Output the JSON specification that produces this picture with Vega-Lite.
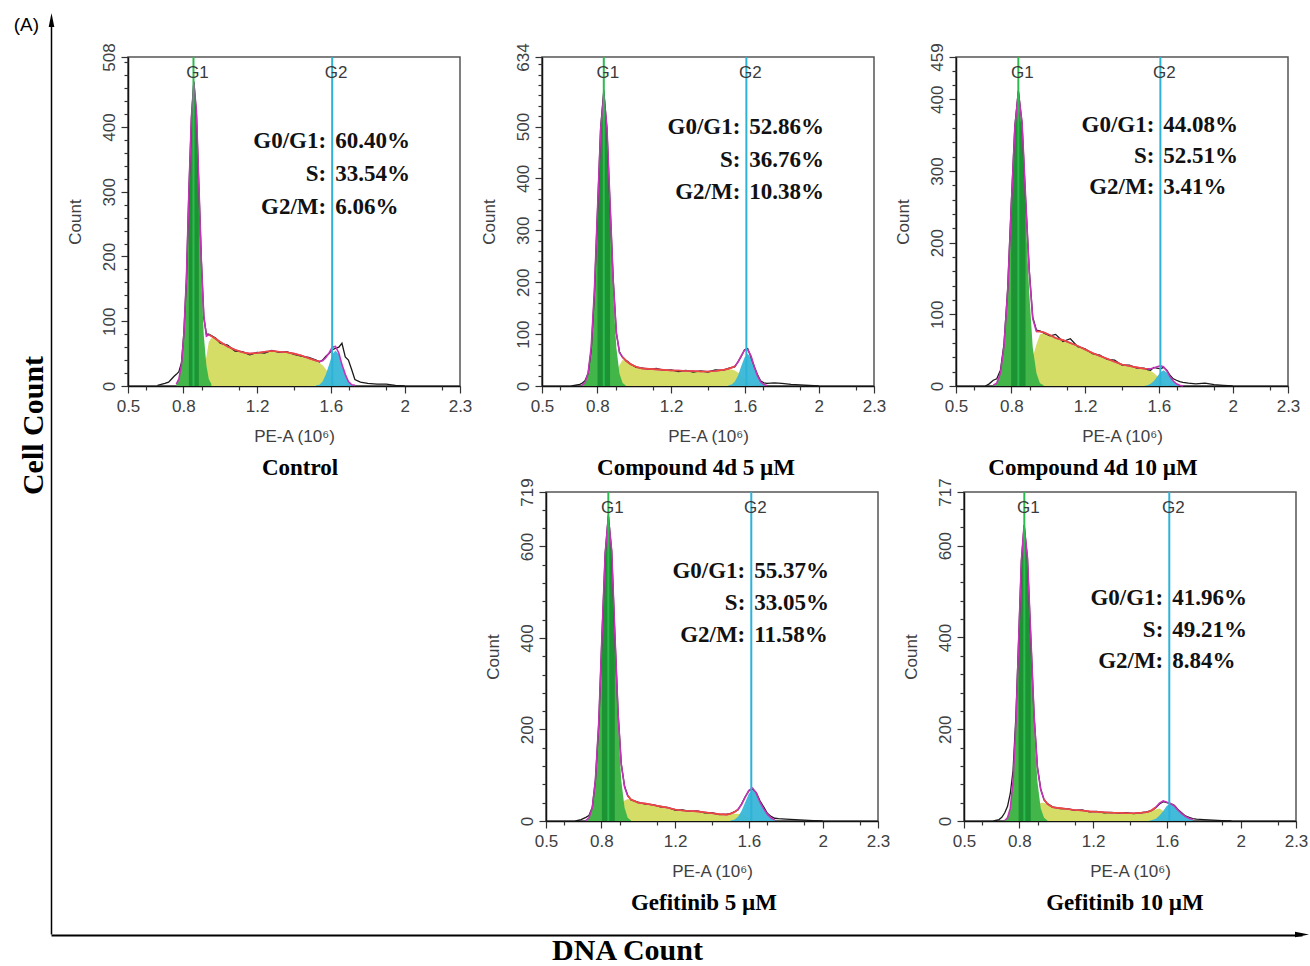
{
"$schema": "https://vega.github.io/schema/vega-lite/v6.json",
"padding": {"left": 13, "top": 13, "right": 0, "bottom": 0},
"background": "white",
"config": {
  "font": "Liberation Sans",
  "view": {"stroke": "#555555", "strokeWidth": 1.5},
  "axis": {"labelFont": "Liberation Sans", "labelFontSize": 17, "labelColor": "#404040", "titleFont": "Liberation Sans", "titleFontSize": 17, "titleFontWeight": "normal", "titleColor": "#404040", "tickColor": "#333333", "tickWidth": 1.2, "domainColor": "#111111", "domainWidth": 1.5, "grid": false}
},
"datasets": {
"p1": [
{"x":0.66,"raw":1},{"x":0.7,"raw":4},{"x":0.72,"raw":6},{"x":0.74,"raw":12},{"x":0.75,"raw":15},
{"x":0.762,"raw":18,"fit":3,"g1":3},
{"x":0.776,"raw":22,"fit":11,"g1":11},
{"x":0.79,"raw":36,"fit":33,"g1":32,"s":1},
{"x":0.803,"raw":82,"fit":80,"g1":78,"s":2},
{"x":0.817,"raw":166,"fit":169,"g1":165,"s":4},
{"x":0.83,"raw":300,"fit":299,"g1":293,"s":6},
{"x":0.844,"raw":414,"fit":416,"g1":408,"s":8},
{"x":0.857,"raw":470,"fit":468,"g1":458,"s":10},
{"x":0.871,"raw":420,"fit":424,"g1":408,"s":16},
{"x":0.884,"raw":310,"fit":313,"g1":293,"s":20},
{"x":0.898,"raw":192,"fit":190,"g1":165,"s":25},
{"x":0.911,"raw":106,"fit":108,"g1":78,"s":30},
{"x":0.925,"raw":80,"fit":77,"g1":32,"s":45},
{"x":0.938,"raw":80,"fit":79,"g1":11,"s":68},
{"x":0.952,"raw":78,"fit":77,"g1":3,"s":74},
{"x":0.975,"raw":74,"fit":73,"s":73},
{"x":1.0,"raw":66,"fit":68,"s":68},
{"x":1.04,"raw":63,"fit":61,"s":61},
{"x":1.08,"raw":54,"fit":56,"s":56},
{"x":1.12,"raw":53,"fit":52,"s":52},
{"x":1.16,"raw":48,"fit":50,"s":50},
{"x":1.2,"raw":52,"fit":51,"s":51},
{"x":1.24,"raw":51,"fit":53,"s":53},
{"x":1.28,"raw":55,"fit":54,"s":54},
{"x":1.32,"raw":52,"fit":53,"s":53},
{"x":1.36,"raw":53,"fit":52,"s":52},
{"x":1.4,"raw":49,"fit":50,"s":50},
{"x":1.44,"raw":46,"fit":47,"s":47},
{"x":1.48,"raw":44,"fit":43,"s":43},
{"x":1.52,"raw":40,"fit":39,"s":38,"g2":1},
{"x":1.538,"raw":37,"fit":38,"s":36,"g2":2},
{"x":1.555,"raw":40,"fit":39,"s":32,"g2":7},
{"x":1.573,"raw":46,"fit":44,"s":26,"g2":18},
{"x":1.59,"raw":50,"fit":51,"s":18,"g2":33},
{"x":1.608,"raw":56,"fit":60,"s":11,"g2":49},
{"x":1.625,"raw":58,"fit":61,"s":6,"g2":55},
{"x":1.643,"raw":60,"fit":51,"s":2,"g2":49},
{"x":1.66,"raw":66,"fit":33,"s":0,"g2":33},
{"x":1.678,"raw":45,"fit":18,"g2":18},
{"x":1.695,"raw":40,"fit":7,"g2":7},
{"x":1.713,"raw":25,"fit":2,"g2":2},
{"x":1.73,"raw":10,"fit":1,"g2":1},
{"x":1.76,"raw":6},{"x":1.8,"raw":4},{"x":1.85,"raw":3},{"x":1.9,"raw":3},{"x":1.95,"raw":1},{"x":2.0,"raw":0}
],
"p2": [
{"x":0.66,"raw":0},{"x":0.69,"raw":2},{"x":0.705,"raw":3},
{"x":0.716,"raw":5,"fit":1,"g1":1},
{"x":0.733,"raw":10,"fit":6,"g1":6},
{"x":0.75,"raw":24,"fit":25,"g1":24,"s":1},
{"x":0.767,"raw":70,"fit":76,"g1":74,"s":2},
{"x":0.784,"raw":178,"fit":183,"g1":179,"s":4},
{"x":0.801,"raw":338,"fit":340,"g1":334,"s":6},
{"x":0.818,"raw":498,"fit":494,"g1":485,"s":9},
{"x":0.835,"raw":570,"fit":562,"g1":550,"s":12},
{"x":0.852,"raw":495,"fit":499,"g1":485,"s":14},
{"x":0.869,"raw":348,"fit":352,"g1":334,"s":18},
{"x":0.886,"raw":205,"fit":203,"g1":179,"s":24},
{"x":0.903,"raw":102,"fit":104,"g1":74,"s":30},
{"x":0.92,"raw":66,"fit":64,"g1":24,"s":40},
{"x":0.937,"raw":55,"fit":56,"g1":6,"s":50},
{"x":0.954,"raw":50,"fit":49,"g1":1,"s":48},
{"x":0.98,"raw":43,"fit":42,"s":42},
{"x":1.01,"raw":36,"fit":37,"s":37},
{"x":1.04,"raw":35,"fit":34,"s":34},
{"x":1.08,"raw":32,"fit":33,"s":33},
{"x":1.12,"raw":34,"fit":32,"s":32},
{"x":1.16,"raw":30,"fit":31,"s":31},
{"x":1.2,"raw":31,"fit":30,"s":30},
{"x":1.24,"raw":28,"fit":30,"s":30},
{"x":1.28,"raw":30,"fit":29,"s":29},
{"x":1.32,"raw":27,"fit":29,"s":29},
{"x":1.36,"raw":29,"fit":28,"s":28},
{"x":1.4,"raw":27,"fit":28,"s":28},
{"x":1.44,"raw":31,"fit":29,"s":29},
{"x":1.48,"raw":30,"fit":31,"s":31},
{"x":1.51,"raw":34,"fit":33,"s":32,"g2":1},
{"x":1.528,"raw":36,"fit":35,"s":32,"g2":3},
{"x":1.545,"raw":37,"fit":38,"s":30,"g2":8},
{"x":1.563,"raw":47,"fit":46,"s":26,"g2":20},
{"x":1.58,"raw":57,"fit":58,"s":20,"g2":38},
{"x":1.598,"raw":70,"fit":69,"s":14,"g2":55},
{"x":1.615,"raw":72,"fit":70,"s":8,"g2":62},
{"x":1.633,"raw":56,"fit":58,"s":3,"g2":55},
{"x":1.65,"raw":38,"fit":38,"s":0,"g2":38},
{"x":1.668,"raw":22,"fit":20,"g2":20},
{"x":1.685,"raw":10,"fit":8,"g2":8},
{"x":1.703,"raw":6,"fit":3,"g2":3},
{"x":1.72,"raw":5,"fit":1,"g2":1},
{"x":1.76,"raw":6},{"x":1.8,"raw":5},{"x":1.85,"raw":3},{"x":1.9,"raw":2},{"x":1.95,"raw":1},{"x":2.0,"raw":0}
],
"p3": [
{"x":0.66,"raw":0},{"x":0.68,"raw":3},
{"x":0.702,"raw":8,"fit":1,"g1":1},
{"x":0.721,"raw":10,"fit":4,"g1":4},
{"x":0.741,"raw":22,"fit":18,"g1":18},
{"x":0.76,"raw":58,"fit":55,"g1":54,"s":1},
{"x":0.78,"raw":135,"fit":132,"g1":130,"s":2},
{"x":0.799,"raw":250,"fit":247,"g1":243,"s":4},
{"x":0.819,"raw":362,"fit":360,"g1":353,"s":7},
{"x":0.838,"raw":412,"fit":410,"g1":400,"s":10},
{"x":0.858,"raw":366,"fit":368,"g1":353,"s":15},
{"x":0.877,"raw":262,"fit":265,"g1":243,"s":22},
{"x":0.897,"raw":162,"fit":160,"g1":130,"s":30},
{"x":0.916,"raw":96,"fit":94,"g1":54,"s":40},
{"x":0.936,"raw":78,"fit":76,"g1":18,"s":58},
{"x":0.955,"raw":77,"fit":76,"g1":4,"s":72},
{"x":0.975,"raw":74,"fit":75,"g1":1,"s":74},
{"x":1.01,"raw":70,"fit":71,"s":71},
{"x":1.04,"raw":72,"fit":67,"s":67},
{"x":1.08,"raw":62,"fit":64,"s":64},
{"x":1.12,"raw":66,"fit":60,"s":60},
{"x":1.16,"raw":55,"fit":56,"s":56},
{"x":1.2,"raw":52,"fit":51,"s":51},
{"x":1.24,"raw":45,"fit":46,"s":46},
{"x":1.28,"raw":43,"fit":42,"s":42},
{"x":1.32,"raw":37,"fit":38,"s":38},
{"x":1.36,"raw":36,"fit":34,"s":34},
{"x":1.4,"raw":29,"fit":30,"s":30},
{"x":1.44,"raw":29,"fit":28,"s":28},
{"x":1.48,"raw":25,"fit":26,"s":26},
{"x":1.52,"raw":25,"fit":24,"s":24,"g2":0},
{"x":1.538,"raw":23,"fit":24,"s":23,"g2":1},
{"x":1.555,"raw":22,"fit":24,"s":21,"g2":3},
{"x":1.573,"raw":26,"fit":25,"s":18,"g2":7},
{"x":1.59,"raw":25,"fit":27,"s":14,"g2":13},
{"x":1.608,"raw":24,"fit":28,"s":9,"g2":19},
{"x":1.625,"raw":26,"fit":27,"s":5,"g2":22},
{"x":1.643,"raw":22,"fit":21,"s":2,"g2":19},
{"x":1.66,"raw":15,"fit":13,"s":0,"g2":13},
{"x":1.678,"raw":10,"fit":7,"g2":7},
{"x":1.695,"raw":8,"fit":3,"g2":3},
{"x":1.713,"raw":6,"fit":1,"g2":1},
{"x":1.73,"raw":5,"fit":0,"g2":0},
{"x":1.76,"raw":4},{"x":1.8,"raw":3},{"x":1.85,"raw":4},{"x":1.9,"raw":2},{"x":1.95,"raw":1},{"x":2.0,"raw":0}
],
"p4": [
{"x":0.66,"raw":0},{"x":0.69,"raw":3},
{"x":0.716,"raw":8,"fit":1,"g1":1},
{"x":0.733,"raw":12,"fit":7,"g1":7},
{"x":0.751,"raw":30,"fit":29,"g1":29},
{"x":0.768,"raw":90,"fit":90,"g1":89,"s":1},
{"x":0.786,"raw":212,"fit":215,"g1":213,"s":2},
{"x":0.803,"raw":400,"fit":401,"g1":397,"s":4},
{"x":0.821,"raw":585,"fit":585,"g1":578,"s":7},
{"x":0.838,"raw":668,"fit":665,"g1":655,"s":10},
{"x":0.856,"raw":590,"fit":591,"g1":578,"s":13},
{"x":0.873,"raw":410,"fit":413,"g1":397,"s":16},
{"x":0.891,"raw":235,"fit":233,"g1":213,"s":20},
{"x":0.908,"raw":125,"fit":124,"g1":89,"s":35},
{"x":0.926,"raw":76,"fit":74,"g1":29,"s":45},
{"x":0.943,"raw":56,"fit":55,"g1":7,"s":48},
{"x":0.961,"raw":46,"fit":47,"g1":1,"s":46},
{"x":1.0,"raw":41,"fit":40,"s":40},
{"x":1.04,"raw":37,"fit":38,"s":38},
{"x":1.08,"raw":36,"fit":35,"s":35},
{"x":1.12,"raw":31,"fit":32,"s":32},
{"x":1.16,"raw":30,"fit":29,"s":29},
{"x":1.2,"raw":24,"fit":25,"s":25},
{"x":1.24,"raw":24,"fit":23,"s":23},
{"x":1.28,"raw":21,"fit":22,"s":22},
{"x":1.32,"raw":22,"fit":21,"s":21},
{"x":1.36,"raw":18,"fit":19,"s":19},
{"x":1.4,"raw":18,"fit":17,"s":17},
{"x":1.44,"raw":14,"fit":15,"s":15},
{"x":1.48,"raw":15,"fit":14,"s":14},
{"x":1.5,"raw":16,"fit":16,"s":15,"g2":1},
{"x":1.52,"raw":20,"fit":19,"s":16,"g2":3},
{"x":1.54,"raw":24,"fit":25,"s":16,"g2":9},
{"x":1.56,"raw":37,"fit":36,"s":14,"g2":22},
{"x":1.58,"raw":53,"fit":52,"s":11,"g2":41},
{"x":1.6,"raw":66,"fit":67,"s":7,"g2":60},
{"x":1.62,"raw":70,"fit":72,"s":4,"g2":68},
{"x":1.64,"raw":62,"fit":61,"s":1,"g2":60},
{"x":1.66,"raw":44,"fit":41,"s":0,"g2":41},
{"x":1.68,"raw":31,"fit":27,"g2":27},
{"x":1.7,"raw":17,"fit":15,"g2":15},
{"x":1.72,"raw":10,"fit":7,"g2":7},
{"x":1.74,"raw":6,"fit":2,"g2":2},
{"x":1.76,"raw":5},{"x":1.8,"raw":4},{"x":1.85,"raw":3},{"x":1.9,"raw":2},{"x":1.95,"raw":1},{"x":2.0,"raw":0}
],
"p5": [
{"x":0.66,"raw":0},{"x":0.69,"raw":3},{"x":0.705,"raw":8},
{"x":0.721,"raw":18,"fit":1,"g1":1},
{"x":0.736,"raw":32,"fit":7,"g1":7},
{"x":0.751,"raw":60,"fit":28,"g1":28},
{"x":0.766,"raw":110,"fit":87,"g1":86,"s":1},
{"x":0.781,"raw":225,"fit":208,"g1":206,"s":2},
{"x":0.796,"raw":392,"fit":389,"g1":385,"s":4},
{"x":0.811,"raw":565,"fit":567,"g1":560,"s":7},
{"x":0.826,"raw":645,"fit":645,"g1":635,"s":10},
{"x":0.844,"raw":572,"fit":574,"g1":560,"s":14},
{"x":0.862,"raw":400,"fit":403,"g1":385,"s":18},
{"x":0.88,"raw":228,"fit":230,"g1":206,"s":24},
{"x":0.898,"raw":118,"fit":116,"g1":86,"s":30},
{"x":0.916,"raw":70,"fit":68,"g1":28,"s":40},
{"x":0.934,"raw":46,"fit":47,"g1":7,"s":40},
{"x":0.952,"raw":38,"fit":37,"g1":1,"s":36},
{"x":0.98,"raw":31,"fit":30,"s":30},
{"x":1.02,"raw":27,"fit":28,"s":28},
{"x":1.06,"raw":27,"fit":26,"s":26},
{"x":1.1,"raw":23,"fit":24,"s":24},
{"x":1.14,"raw":24,"fit":23,"s":23},
{"x":1.18,"raw":20,"fit":21,"s":21},
{"x":1.22,"raw":21,"fit":20,"s":20},
{"x":1.26,"raw":18,"fit":19,"s":19},
{"x":1.3,"raw":19,"fit":18,"s":18},
{"x":1.34,"raw":17,"fit":18,"s":18},
{"x":1.38,"raw":18,"fit":17,"s":17},
{"x":1.42,"raw":16,"fit":17,"s":17},
{"x":1.46,"raw":18,"fit":18,"s":18},
{"x":1.49,"raw":20,"fit":19,"s":19},
{"x":1.5,"raw":21,"fit":20,"s":20,"g2":0},
{"x":1.52,"raw":23,"fit":24,"s":22,"g2":2},
{"x":1.54,"raw":29,"fit":30,"s":25,"g2":5},
{"x":1.56,"raw":37,"fit":39,"s":27,"g2":12},
{"x":1.58,"raw":42,"fit":44,"s":22,"g2":22},
{"x":1.6,"raw":40,"fit":41,"s":8,"g2":33},
{"x":1.62,"raw":38,"fit":38,"s":1,"g2":37},
{"x":1.64,"raw":34,"fit":33,"s":0,"g2":33},
{"x":1.66,"raw":25,"fit":24,"g2":24},
{"x":1.68,"raw":18,"fit":16,"g2":16},
{"x":1.7,"raw":11,"fit":10,"g2":10},
{"x":1.72,"raw":8,"fit":6,"g2":6},
{"x":1.74,"raw":5,"fit":3,"g2":3},
{"x":1.76,"raw":4},{"x":1.8,"raw":3},{"x":1.85,"raw":2},{"x":1.9,"raw":1},{"x":1.95,"raw":0}
],
"m1": [{"ph":"G1","pos":0.855},{"ph":"G2","pos":1.607}],
"m2": [{"ph":"G1","pos":0.835},{"ph":"G2","pos":1.608}],
"m3": [{"ph":"G1","pos":0.838},{"ph":"G2","pos":1.608}],
"m4": [{"ph":"G1","pos":0.838},{"ph":"G2","pos":1.613}],
"m5": [{"ph":"G1","pos":0.827},{"ph":"G2","pos":1.613}],
"st1": [{"i":0,"lab":"G0/G1:","pct":0.6040},{"i":1,"lab":"S:","pct":0.3354},{"i":2,"lab":"G2/M:","pct":0.0606}],
"st2": [{"i":0,"lab":"G0/G1:","pct":0.5286},{"i":1,"lab":"S:","pct":0.3676},{"i":2,"lab":"G2/M:","pct":0.1038}],
"st3": [{"i":0,"lab":"G0/G1:","pct":0.4408},{"i":1,"lab":"S:","pct":0.5251},{"i":2,"lab":"G2/M:","pct":0.0341}],
"st4": [{"i":0,"lab":"G0/G1:","pct":0.5537},{"i":1,"lab":"S:","pct":0.3305},{"i":2,"lab":"G2/M:","pct":0.1158}],
"st5": [{"i":0,"lab":"G0/G1:","pct":0.4196},{"i":1,"lab":"S:","pct":0.4921},{"i":2,"lab":"G2/M:","pct":0.0884}]
},
"spacing": -4,
"vconcat": [
{
 "spacing": 10,
 "hconcat": [
  {
   "width": 1, "height": 914,
   "view": {"stroke": null},
   "data": {"values": [{}]},
   "encoding": {"y": {"datum": 1, "type": "quantitative", "scale": {"domain": [0, 1], "nice": false}, "axis": {"domain": true, "domainColor": "#000000", "domainWidth": 1.5, "ticks": false, "labels": false, "grid": false, "title": "Cell Count", "titleFont": "Liberation Serif", "titleFontSize": 30, "titleFontWeight": "bold", "titleColor": "#000000", "titleX": -9, "titleY": 405, "titleAngle": 270, "titleBaseline": "alphabetic", "titleAlign": "center"}}},
   "layer": [
    {"mark": {"type": "point", "shape": "M0,-1L0.4,1L-0.4,1Z", "size": 196, "filled": true, "color": "#000000", "opacity": 1}},
    {"mark": {"type": "text", "text": "(A)", "align": "right", "baseline": "alphabetic", "dx": -12.5, "dy": 11, "font": "Liberation Sans", "fontSize": 19, "color": "#000000"}}
   ]
  },
  {
   "spacing": 21,
   "vconcat": [
    {"width": 1, "height": 1, "view": {"stroke": null}, "data": {"values": [{}]}, "mark": {"type": "point", "opacity": 0, "size": 1}, "encoding": {}},
    {
     "spacing": -4,
     "vconcat": [
      {
       "spacing": 6,
       "hconcat": [
        {
         "width": 332, "height": 329,
         "title": {"text": "Control", "orient": "bottom", "offset": 13, "dx": 6, "font": "Liberation Serif", "fontSize": 23, "fontWeight": "bold", "color": "#000000", "anchor": "middle"},
         "layer": [
          {
           "data": {"name": "p1"},
           "transform": [{"fold": ["s", "g1", "g2", "raw", "fit"], "as": ["k", "v"]}],
           "encoding": {
            "x": {"field": "x", "type": "quantitative", "scale": {"domain": [0.5, 2.3], "nice": false, "zero": false}, "axis": {"orient": "bottom", "values": [0.5, 0.8, 1.2, 1.6, 2, 2.3], "format": "~g", "title": "PE-A (10⁶)", "labelFlush": false, "labelOverlap": false, "tickSize": 7, "labelPadding": 5, "titlePadding": 14}},
            "y": {"field": "v", "type": "quantitative", "scale": {"domain": [0, 508], "nice": false}, "axis": {"orient": "left", "values": [0, 100, 200, 300, 400, 508], "title": "Count", "labelAngle": -90, "labelAlign": "center", "labelBaseline": "bottom", "labelFlush": false, "labelOverlap": false, "tickSize": 7, "labelPadding": 3, "titlePadding": 16}}
           },
           "layer": [
            {"transform": [{"filter": "datum.k === 's'"}], "mark": {"type": "area", "color": "#d6dd66", "opacity": 1}, "encoding": {}},
            {"transform": [{"filter": "datum.k === 'g1'"}], "mark": {"type": "area", "color": "#43b649", "opacity": 1}, "encoding": {}},
            {"transform": [{"filter": "datum.k === 'g1' && datum.x >= 0.825 && datum.x <= 0.89"}], "mark": {"type": "area", "color": "#1c9433", "opacity": 1}, "encoding": {}},
            {"transform": [{"filter": "datum.k === 'g2'"}], "mark": {"type": "area", "color": "#38b6d8", "opacity": 0.95}, "encoding": {}},
            {"transform": [{"filter": "datum.k === 'raw'"}], "mark": {"type": "line", "color": "#1a1a1a", "strokeWidth": 1.3}, "encoding": {}},
            {"transform": [{"filter": "datum.k === 'fit'"}], "mark": {"type": "line", "color": "#c633b8", "strokeWidth": 1.6}, "encoding": {}},
            {"transform": [{"filter": "datum.k === 'fit' && datum.x >= 0.93 && datum.x <= 1.55"}], "mark": {"type": "line", "color": "#ec4b3b", "strokeWidth": 1.6}, "encoding": {}}
           ]
          },
          {
           "data": {"name": "m1"},
           "layer": [
            {"mark": {"type": "rule", "strokeWidth": 2}, "encoding": {"x": {"field": "pos", "type": "quantitative", "axis": {"orient": "bottom", "values": [0.6, 0.7, 0.9, 1.0, 1.1, 1.3, 1.4, 1.5, 1.7, 1.8, 1.9, 2.1, 2.2], "labels": false, "domain": false, "title": null, "tickSize": 4, "grid": false}}, "color": {"field": "ph", "type": "nominal", "scale": {"domain": ["G1", "G2"], "range": ["#2dbb4f", "#2eb3d8"]}, "legend": null}}},
            {"mark": {"type": "text", "font": "Liberation Sans", "fontSize": 17, "color": "#3a3a3a", "align": "center", "baseline": "middle", "dx": 4, "dy": 16}, "encoding": {"x": {"field": "pos", "type": "quantitative"}, "y": {"datum": 508, "type": "quantitative", "scale": {"domain": [0, 508], "nice": false}, "axis": {"orient": "left", "values": [20, 40, 60, 80, 120, 140, 160, 180, 220, 240, 260, 280, 320, 340, 360, 380, 420, 440, 460, 480, 500], "labels": false, "domain": false, "title": null, "tickSize": 4, "grid": false}}, "text": {"field": "ph"}}}
           ]
          },
          {
           "data": {"name": "st1"},
           "encoding": {"x": {"datum": 1.607, "type": "quantitative", "axis": null}, "y": {"field": "i", "type": "quantitative", "scale": {"domain": [-2.748, 7.221], "reverse": true, "nice": false, "zero": false}, "axis": null}},
           "layer": [
            {"mark": {"type": "text", "align": "right", "baseline": "alphabetic", "dx": -6, "font": "Liberation Serif", "fontSize": 23, "fontWeight": "bold", "color": "#111111"}, "encoding": {"text": {"field": "lab"}}},
            {"mark": {"type": "text", "align": "left", "baseline": "alphabetic", "dx": 3, "font": "Liberation Serif", "fontSize": 23, "fontWeight": "bold", "color": "#111111"}, "encoding": {"text": {"field": "pct", "type": "quantitative", "format": ".2%"}}}
           ]
          }
         ],
         "resolve": {"scale": {"y": "independent"}, "axis": {"x": "independent", "y": "independent"}}
        },
        {
         "width": 332, "height": 329,
         "title": {"text": "Compound 4d  5 µM", "orient": "bottom", "offset": 13, "dx": -12, "font": "Liberation Serif", "fontSize": 23, "fontWeight": "bold", "color": "#000000", "anchor": "middle"},
         "layer": [
          {
           "data": {"name": "p2"},
           "transform": [{"fold": ["s", "g1", "g2", "raw", "fit"], "as": ["k", "v"]}],
           "encoding": {
            "x": {"field": "x", "type": "quantitative", "scale": {"domain": [0.5, 2.3], "nice": false, "zero": false}, "axis": {"orient": "bottom", "values": [0.5, 0.8, 1.2, 1.6, 2, 2.3], "format": "~g", "title": "PE-A (10⁶)", "labelFlush": false, "labelOverlap": false, "tickSize": 7, "labelPadding": 5, "titlePadding": 14}},
            "y": {"field": "v", "type": "quantitative", "scale": {"domain": [0, 634], "nice": false}, "axis": {"orient": "left", "values": [0, 100, 200, 300, 400, 500, 634], "title": "Count", "labelAngle": -90, "labelAlign": "center", "labelBaseline": "bottom", "labelFlush": false, "labelOverlap": false, "tickSize": 7, "labelPadding": 3, "titlePadding": 16}}
           },
           "layer": [
            {"transform": [{"filter": "datum.k === 's'"}], "mark": {"type": "area", "color": "#d6dd66", "opacity": 1}, "encoding": {}},
            {"transform": [{"filter": "datum.k === 'g1'"}], "mark": {"type": "area", "color": "#43b649", "opacity": 1}, "encoding": {}},
            {"transform": [{"filter": "datum.k === 'g1' && datum.x >= 0.80 && datum.x <= 0.87"}], "mark": {"type": "area", "color": "#1c9433", "opacity": 1}, "encoding": {}},
            {"transform": [{"filter": "datum.k === 'g2'"}], "mark": {"type": "area", "color": "#38b6d8", "opacity": 0.95}, "encoding": {}},
            {"transform": [{"filter": "datum.k === 'raw'"}], "mark": {"type": "line", "color": "#1a1a1a", "strokeWidth": 1.3}, "encoding": {}},
            {"transform": [{"filter": "datum.k === 'fit'"}], "mark": {"type": "line", "color": "#c633b8", "strokeWidth": 1.6}, "encoding": {}},
            {"transform": [{"filter": "datum.k === 'fit' && datum.x >= 0.93 && datum.x <= 1.55"}], "mark": {"type": "line", "color": "#ec4b3b", "strokeWidth": 1.6}, "encoding": {}}
           ]
          },
          {
           "data": {"name": "m2"},
           "layer": [
            {"mark": {"type": "rule", "strokeWidth": 2}, "encoding": {"x": {"field": "pos", "type": "quantitative", "axis": {"orient": "bottom", "values": [0.6, 0.7, 0.9, 1.0, 1.1, 1.3, 1.4, 1.5, 1.7, 1.8, 1.9, 2.1, 2.2], "labels": false, "domain": false, "title": null, "tickSize": 4, "grid": false}}, "color": {"field": "ph", "type": "nominal", "scale": {"domain": ["G1", "G2"], "range": ["#2dbb4f", "#2eb3d8"]}, "legend": null}}},
            {"mark": {"type": "text", "font": "Liberation Sans", "fontSize": 17, "color": "#3a3a3a", "align": "center", "baseline": "middle", "dx": 4, "dy": 16}, "encoding": {"x": {"field": "pos", "type": "quantitative"}, "y": {"datum": 634, "type": "quantitative", "scale": {"domain": [0, 634], "nice": false}, "axis": {"orient": "left", "values": [20, 40, 60, 80, 120, 140, 160, 180, 220, 240, 260, 280, 320, 340, 360, 380, 420, 440, 460, 480, 520, 540, 560, 580, 600, 620], "labels": false, "domain": false, "title": null, "tickSize": 4, "grid": false}}, "text": {"field": "ph"}}}
           ]
          },
          {
           "data": {"name": "st2"},
           "encoding": {"x": {"datum": 1.608, "type": "quantitative", "axis": null}, "y": {"field": "i", "type": "quantitative", "scale": {"domain": [-2.401, 7.816], "reverse": true, "nice": false, "zero": false}, "axis": null}},
           "layer": [
            {"mark": {"type": "text", "align": "right", "baseline": "alphabetic", "dx": -6, "font": "Liberation Serif", "fontSize": 23, "fontWeight": "bold", "color": "#111111"}, "encoding": {"text": {"field": "lab"}}},
            {"mark": {"type": "text", "align": "left", "baseline": "alphabetic", "dx": 3, "font": "Liberation Serif", "fontSize": 23, "fontWeight": "bold", "color": "#111111"}, "encoding": {"text": {"field": "pct", "type": "quantitative", "format": ".2%"}}}
           ]
          }
         ],
         "resolve": {"scale": {"y": "independent"}, "axis": {"x": "independent", "y": "independent"}}
        },
        {
         "width": 332, "height": 329,
         "title": {"text": "Compound 4d  10 µM", "orient": "bottom", "offset": 13, "dx": -29, "font": "Liberation Serif", "fontSize": 23, "fontWeight": "bold", "color": "#000000", "anchor": "middle"},
         "layer": [
          {
           "data": {"name": "p3"},
           "transform": [{"fold": ["s", "g1", "g2", "raw", "fit"], "as": ["k", "v"]}],
           "encoding": {
            "x": {"field": "x", "type": "quantitative", "scale": {"domain": [0.5, 2.3], "nice": false, "zero": false}, "axis": {"orient": "bottom", "values": [0.5, 0.8, 1.2, 1.6, 2, 2.3], "format": "~g", "title": "PE-A (10⁶)", "labelFlush": false, "labelOverlap": false, "tickSize": 7, "labelPadding": 5, "titlePadding": 14}},
            "y": {"field": "v", "type": "quantitative", "scale": {"domain": [0, 459], "nice": false}, "axis": {"orient": "left", "values": [0, 100, 200, 300, 400, 459], "title": "Count", "labelAngle": -90, "labelAlign": "center", "labelBaseline": "bottom", "labelFlush": false, "labelOverlap": false, "tickSize": 7, "labelPadding": 3, "titlePadding": 16}}
           },
           "layer": [
            {"transform": [{"filter": "datum.k === 's'"}], "mark": {"type": "area", "color": "#d6dd66", "opacity": 1}, "encoding": {}},
            {"transform": [{"filter": "datum.k === 'g1'"}], "mark": {"type": "area", "color": "#43b649", "opacity": 1}, "encoding": {}},
            {"transform": [{"filter": "datum.k === 'g1' && datum.x >= 0.795 && datum.x <= 0.88"}], "mark": {"type": "area", "color": "#1c9433", "opacity": 1}, "encoding": {}},
            {"transform": [{"filter": "datum.k === 'g2'"}], "mark": {"type": "area", "color": "#38b6d8", "opacity": 0.95}, "encoding": {}},
            {"transform": [{"filter": "datum.k === 'raw'"}], "mark": {"type": "line", "color": "#1a1a1a", "strokeWidth": 1.3}, "encoding": {}},
            {"transform": [{"filter": "datum.k === 'fit'"}], "mark": {"type": "line", "color": "#c633b8", "strokeWidth": 1.6}, "encoding": {}},
            {"transform": [{"filter": "datum.k === 'fit' && datum.x >= 0.93 && datum.x <= 1.55"}], "mark": {"type": "line", "color": "#ec4b3b", "strokeWidth": 1.6}, "encoding": {}}
           ]
          },
          {
           "data": {"name": "m3"},
           "layer": [
            {"mark": {"type": "rule", "strokeWidth": 2}, "encoding": {"x": {"field": "pos", "type": "quantitative", "axis": {"orient": "bottom", "values": [0.6, 0.7, 0.9, 1.0, 1.1, 1.3, 1.4, 1.5, 1.7, 1.8, 1.9, 2.1, 2.2], "labels": false, "domain": false, "title": null, "tickSize": 4, "grid": false}}, "color": {"field": "ph", "type": "nominal", "scale": {"domain": ["G1", "G2"], "range": ["#2dbb4f", "#2eb3d8"]}, "legend": null}}},
            {"mark": {"type": "text", "font": "Liberation Sans", "fontSize": 17, "color": "#3a3a3a", "align": "center", "baseline": "middle", "dx": 4, "dy": 16}, "encoding": {"x": {"field": "pos", "type": "quantitative"}, "y": {"datum": 459, "type": "quantitative", "scale": {"domain": [0, 459], "nice": false}, "axis": {"orient": "left", "values": [20, 40, 60, 80, 120, 140, 160, 180, 220, 240, 260, 280, 320, 340, 360, 380, 420, 440], "labels": false, "domain": false, "title": null, "tickSize": 4, "grid": false}}, "text": {"field": "ph"}}}
           ]
          },
          {
           "data": {"name": "st3"},
           "encoding": {"x": {"datum": 1.608, "type": "quantitative", "axis": null}, "y": {"field": "i", "type": "quantitative", "scale": {"domain": [-2.435, 8.247], "reverse": true, "nice": false, "zero": false}, "axis": null}},
           "layer": [
            {"mark": {"type": "text", "align": "right", "baseline": "alphabetic", "dx": -6, "font": "Liberation Serif", "fontSize": 23, "fontWeight": "bold", "color": "#111111"}, "encoding": {"text": {"field": "lab"}}},
            {"mark": {"type": "text", "align": "left", "baseline": "alphabetic", "dx": 3, "font": "Liberation Serif", "fontSize": 23, "fontWeight": "bold", "color": "#111111"}, "encoding": {"text": {"field": "pct", "type": "quantitative", "format": ".2%"}}}
           ]
          }
         ],
         "resolve": {"scale": {"y": "independent"}, "axis": {"x": "independent", "y": "independent"}}
        }
       ]
      },
      {
       "spacing": 10,
       "hconcat": [
        {"width": 345, "height": 329, "view": {"stroke": null}, "data": {"values": [{}]}, "mark": {"type": "point", "opacity": 0, "size": 1}, "encoding": {}},
        {
         "width": 332, "height": 329,
         "title": {"text": "Gefitinib  5 µM", "orient": "bottom", "offset": 13, "dx": -8, "font": "Liberation Serif", "fontSize": 23, "fontWeight": "bold", "color": "#000000", "anchor": "middle"},
         "layer": [
          {
           "data": {"name": "p4"},
           "transform": [{"fold": ["s", "g1", "g2", "raw", "fit"], "as": ["k", "v"]}],
           "encoding": {
            "x": {"field": "x", "type": "quantitative", "scale": {"domain": [0.5, 2.3], "nice": false, "zero": false}, "axis": {"orient": "bottom", "values": [0.5, 0.8, 1.2, 1.6, 2, 2.3], "format": "~g", "title": "PE-A (10⁶)", "labelFlush": false, "labelOverlap": false, "tickSize": 7, "labelPadding": 5, "titlePadding": 14}},
            "y": {"field": "v", "type": "quantitative", "scale": {"domain": [0, 719], "nice": false}, "axis": {"orient": "left", "values": [0, 200, 400, 600, 719], "title": "Count", "labelAngle": -90, "labelAlign": "center", "labelBaseline": "bottom", "labelFlush": false, "labelOverlap": false, "tickSize": 7, "labelPadding": 3, "titlePadding": 16}}
           },
           "layer": [
            {"transform": [{"filter": "datum.k === 's'"}], "mark": {"type": "area", "color": "#d6dd66", "opacity": 1}, "encoding": {}},
            {"transform": [{"filter": "datum.k === 'g1'"}], "mark": {"type": "area", "color": "#43b649", "opacity": 1}, "encoding": {}},
            {"transform": [{"filter": "datum.k === 'g1' && datum.x >= 0.80 && datum.x <= 0.875"}], "mark": {"type": "area", "color": "#1c9433", "opacity": 1}, "encoding": {}},
            {"transform": [{"filter": "datum.k === 'g2'"}], "mark": {"type": "area", "color": "#38b6d8", "opacity": 0.95}, "encoding": {}},
            {"transform": [{"filter": "datum.k === 'raw'"}], "mark": {"type": "line", "color": "#1a1a1a", "strokeWidth": 1.3}, "encoding": {}},
            {"transform": [{"filter": "datum.k === 'fit'"}], "mark": {"type": "line", "color": "#c633b8", "strokeWidth": 1.6}, "encoding": {}},
            {"transform": [{"filter": "datum.k === 'fit' && datum.x >= 0.93 && datum.x <= 1.55"}], "mark": {"type": "line", "color": "#ec4b3b", "strokeWidth": 1.6}, "encoding": {}}
           ]
          },
          {
           "data": {"name": "m4"},
           "layer": [
            {"mark": {"type": "rule", "strokeWidth": 2}, "encoding": {"x": {"field": "pos", "type": "quantitative", "axis": {"orient": "bottom", "values": [0.6, 0.7, 0.9, 1.0, 1.1, 1.3, 1.4, 1.5, 1.7, 1.8, 1.9, 2.1, 2.2], "labels": false, "domain": false, "title": null, "tickSize": 4, "grid": false}}, "color": {"field": "ph", "type": "nominal", "scale": {"domain": ["G1", "G2"], "range": ["#2dbb4f", "#2eb3d8"]}, "legend": null}}},
            {"mark": {"type": "text", "font": "Liberation Sans", "fontSize": 17, "color": "#3a3a3a", "align": "center", "baseline": "middle", "dx": 4, "dy": 16}, "encoding": {"x": {"field": "pos", "type": "quantitative"}, "y": {"datum": 719, "type": "quantitative", "scale": {"domain": [0, 719], "nice": false}, "axis": {"orient": "left", "values": [40, 80, 120, 160, 240, 280, 320, 360, 440, 480, 520, 560, 640, 680], "labels": false, "domain": false, "title": null, "tickSize": 4, "grid": false}}, "text": {"field": "ph"}}}
           ]
          },
          {
           "data": {"name": "st4"},
           "encoding": {"x": {"datum": 1.613, "type": "quantitative", "axis": null}, "y": {"field": "i", "type": "quantitative", "scale": {"domain": [-2.722, 7.657], "reverse": true, "nice": false, "zero": false}, "axis": null}},
           "layer": [
            {"mark": {"type": "text", "align": "right", "baseline": "alphabetic", "dx": -6, "font": "Liberation Serif", "fontSize": 23, "fontWeight": "bold", "color": "#111111"}, "encoding": {"text": {"field": "lab"}}},
            {"mark": {"type": "text", "align": "left", "baseline": "alphabetic", "dx": 3, "font": "Liberation Serif", "fontSize": 23, "fontWeight": "bold", "color": "#111111"}, "encoding": {"text": {"field": "pct", "type": "quantitative", "format": ".2%"}}}
           ]
          }
         ],
         "resolve": {"scale": {"y": "independent"}, "axis": {"x": "independent", "y": "independent"}}
        },
        {
         "width": 332, "height": 329,
         "title": {"text": "Gefitinib  10 µM", "orient": "bottom", "offset": 13, "dx": -5, "font": "Liberation Serif", "fontSize": 23, "fontWeight": "bold", "color": "#000000", "anchor": "middle"},
         "layer": [
          {
           "data": {"name": "p5"},
           "transform": [{"fold": ["s", "g1", "g2", "raw", "fit"], "as": ["k", "v"]}],
           "encoding": {
            "x": {"field": "x", "type": "quantitative", "scale": {"domain": [0.5, 2.3], "nice": false, "zero": false}, "axis": {"orient": "bottom", "values": [0.5, 0.8, 1.2, 1.6, 2, 2.3], "format": "~g", "title": "PE-A (10⁶)", "labelFlush": false, "labelOverlap": false, "tickSize": 7, "labelPadding": 5, "titlePadding": 14}},
            "y": {"field": "v", "type": "quantitative", "scale": {"domain": [0, 717], "nice": false}, "axis": {"orient": "left", "values": [0, 200, 400, 600, 717], "title": "Count", "labelAngle": -90, "labelAlign": "center", "labelBaseline": "bottom", "labelFlush": false, "labelOverlap": false, "tickSize": 7, "labelPadding": 3, "titlePadding": 16}}
           },
           "layer": [
            {"transform": [{"filter": "datum.k === 's'"}], "mark": {"type": "area", "color": "#d6dd66", "opacity": 1}, "encoding": {}},
            {"transform": [{"filter": "datum.k === 'g1'"}], "mark": {"type": "area", "color": "#43b649", "opacity": 1}, "encoding": {}},
            {"transform": [{"filter": "datum.k === 'g1' && datum.x >= 0.79 && datum.x <= 0.865"}], "mark": {"type": "area", "color": "#1c9433", "opacity": 1}, "encoding": {}},
            {"transform": [{"filter": "datum.k === 'g2'"}], "mark": {"type": "area", "color": "#38b6d8", "opacity": 0.95}, "encoding": {}},
            {"transform": [{"filter": "datum.k === 'raw'"}], "mark": {"type": "line", "color": "#1a1a1a", "strokeWidth": 1.3}, "encoding": {}},
            {"transform": [{"filter": "datum.k === 'fit'"}], "mark": {"type": "line", "color": "#c633b8", "strokeWidth": 1.6}, "encoding": {}},
            {"transform": [{"filter": "datum.k === 'fit' && datum.x >= 0.93 && datum.x <= 1.55"}], "mark": {"type": "line", "color": "#ec4b3b", "strokeWidth": 1.6}, "encoding": {}}
           ]
          },
          {
           "data": {"name": "m5"},
           "layer": [
            {"mark": {"type": "rule", "strokeWidth": 2}, "encoding": {"x": {"field": "pos", "type": "quantitative", "axis": {"orient": "bottom", "values": [0.6, 0.7, 0.9, 1.0, 1.1, 1.3, 1.4, 1.5, 1.7, 1.8, 1.9, 2.1, 2.2], "labels": false, "domain": false, "title": null, "tickSize": 4, "grid": false}}, "color": {"field": "ph", "type": "nominal", "scale": {"domain": ["G1", "G2"], "range": ["#2dbb4f", "#2eb3d8"]}, "legend": null}}},
            {"mark": {"type": "text", "font": "Liberation Sans", "fontSize": 17, "color": "#3a3a3a", "align": "center", "baseline": "middle", "dx": 4, "dy": 16}, "encoding": {"x": {"field": "pos", "type": "quantitative"}, "y": {"datum": 717, "type": "quantitative", "scale": {"domain": [0, 717], "nice": false}, "axis": {"orient": "left", "values": [40, 80, 120, 160, 240, 280, 320, 360, 440, 480, 520, 560, 640, 680], "labels": false, "domain": false, "title": null, "tickSize": 4, "grid": false}}, "text": {"field": "ph"}}}
           ]
          },
          {
           "data": {"name": "st5"},
           "encoding": {"x": {"datum": 1.613, "type": "quantitative", "axis": null}, "y": {"field": "i", "type": "quantitative", "scale": {"domain": [-3.565, 6.814], "reverse": true, "nice": false, "zero": false}, "axis": null}},
           "layer": [
            {"mark": {"type": "text", "align": "right", "baseline": "alphabetic", "dx": -6, "font": "Liberation Serif", "fontSize": 23, "fontWeight": "bold", "color": "#111111"}, "encoding": {"text": {"field": "lab"}}},
            {"mark": {"type": "text", "align": "left", "baseline": "alphabetic", "dx": 3, "font": "Liberation Serif", "fontSize": 23, "fontWeight": "bold", "color": "#111111"}, "encoding": {"text": {"field": "pct", "type": "quantitative", "format": ".2%"}}}
           ]
          }
         ],
         "resolve": {"scale": {"y": "independent"}, "axis": {"x": "independent", "y": "independent"}}
        }
       ]
      }
     ]
    }
   ]
  }
 ]
},
{
 "width": 1251, "height": 1,
 "view": {"stroke": null},
 "data": {"values": [{}]},
 "mark": {"type": "point", "shape": "M1,0L-1,0.4L-1,-0.4Z", "size": 196, "filled": true, "color": "#000000", "opacity": 1},
 "encoding": {"x": {"datum": 1, "type": "quantitative", "scale": {"domain": [0, 1], "nice": false}, "axis": {"domain": true, "domainColor": "#000000", "domainWidth": 2, "ticks": false, "labels": false, "grid": false, "title": "DNA Count", "titleFont": "Liberation Serif", "titleFontSize": 30, "titleFontWeight": "bold", "titleColor": "#000000", "titleX": 576, "titleY": 24, "titleBaseline": "alphabetic", "titleAlign": "center"}}}
}
]
}
